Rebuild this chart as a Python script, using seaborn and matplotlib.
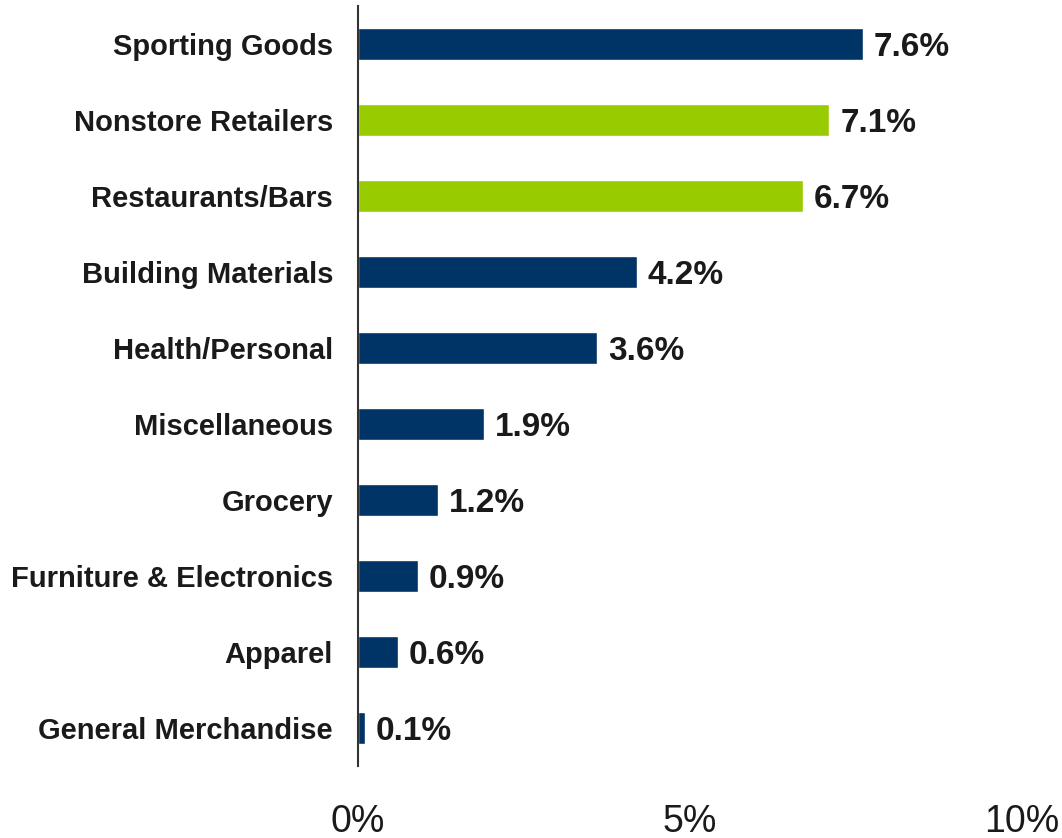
import matplotlib
matplotlib.use("Agg")
import matplotlib.pyplot as plt
import seaborn as sns
import pandas as pd

categories = [
    "Sporting Goods",
    "Nonstore Retailers",
    "Restaurants/Bars",
    "Building Materials",
    "Health/Personal",
    "Miscellaneous",
    "Grocery",
    "Furniture & Electronics",
    "Apparel",
    "General Merchandise",
]
growth_pct = [7.6, 7.1, 6.7, 4.2, 3.6, 1.9, 1.2, 0.9, 0.6, 0.1]
highlighted = ["Nonstore Retailers", "Restaurants/Bars"]
x_ticks = [0, 5, 10]
x_tick_labels = ["0%", "5%", "10%"]

NAVY = "#003366"
GREEN = "#99CC00"
TEXT = "#1a1a1a"

df = pd.DataFrame({"category": categories, "growth": growth_pct})
palette = {c: (GREEN if c in highlighted else NAVY) for c in categories}

sns.set_theme(style="white")
plt.rcParams["font.family"] = ["Liberation Sans", "DejaVu Sans"]

fig = plt.figure(figsize=(10.62, 8.38), dpi=100)
ax = fig.add_axes([0.3371, 0.0859, 0.6252, 0.9069])

sns.barplot(
    data=df, x="growth", y="category", hue="category", palette=palette,
    order=categories, hue_order=categories, orient="h", width=0.41,
    legend=False, saturation=1, ax=ax,
)

# value labels just right of each bar end
for i, v in enumerate(growth_pct):
    ax.annotate(
        f"{v:.1f}%", xy=(v, i), xytext=(8, -2.5), textcoords="offset points",
        ha="left", va="center", fontsize=24, fontweight="bold", color=TEXT,
    )

ax.set_xlim(0, 10)
ax.set_ylim(len(categories) - 0.5, -0.5)
ax.set_xticks(x_ticks)
ax.set_xticklabels(x_tick_labels)
ax.set_xlabel("")
ax.set_ylabel("")

for side in ["top", "right", "bottom"]:
    ax.spines[side].set_visible(False)
ax.spines["left"].set_color("#333333")
ax.spines["left"].set_linewidth(1.5)

ax.tick_params(axis="y", length=0, pad=18, labelsize=21, labelcolor=TEXT)
for lbl in ax.get_yticklabels():
    lbl.set_fontweight("bold")
ax.tick_params(axis="x", length=0, pad=27, labelsize=27, labelcolor=TEXT)

fig.savefig("out.png", dpi=100)
